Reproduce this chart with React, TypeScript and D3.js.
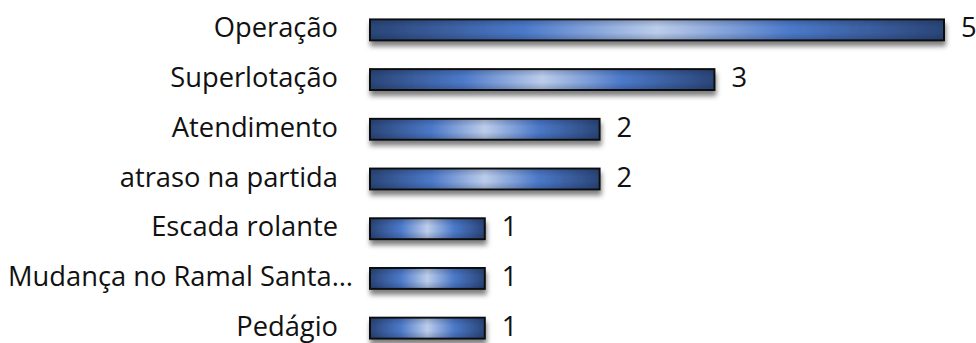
import React, { useEffect, useRef } from "react";
import * as d3 from "d3";

const categories = [
  "Operação",
  "Superlotação",
  "Atendimento",
  "atraso na partida",
  "Escada rolante",
  "Mudança no Ramal Santa…",
  "Pedágio",
];
const counts = [5, 3, 2, 2, 1, 1, 1];

const width = 976;
const height = 343;

export default function App() {
  const ref = useRef<SVGSVGElement>(null);

  useEffect(() => {
    const svg = d3.select(ref.current);
    svg.selectAll("*").remove();

    const x = d3.scaleLinear().domain([0, 5]).range([370, 944]);
    const y = d3
      .scaleBand()
      .domain(categories)
      .range([5, 353])
      .paddingInner(0.58)
      .paddingOuter(0.29);

    const defs = svg.append("defs");

    // horizontal sheen: dark edges, bright blue, light centre
    const grad = defs
      .append("linearGradient")
      .attr("id", "barGrad")
      .attr("x1", "0%")
      .attr("x2", "100%");
    [
      [0, "#2a4577"],
      [0.27, "#4c79c9"],
      [0.5, "#bccdeb"],
      [0.73, "#4c79c9"],
      [1, "#2a4577"],
    ].forEach(([o, c]) =>
      grad.append("stop").attr("offset", o as number).attr("stop-color", c as string),
    );

    // slight vertical darkening toward top and bottom
    const vgrad = defs
      .append("linearGradient")
      .attr("id", "barShade")
      .attr("x1", "0%")
      .attr("x2", "0%")
      .attr("y1", "0%")
      .attr("y2", "100%");
    [
      [0, "#0a1a3a", 0.22],
      [0.35, "#0a1a3a", 0],
      [0.65, "#0a1a3a", 0],
      [1, "#0a1a3a", 0.22],
    ].forEach(([o, c, op]) =>
      vgrad
        .append("stop")
        .attr("offset", o as number)
        .attr("stop-color", c as string)
        .attr("stop-opacity", op as number),
    );

    const shadow = defs
      .append("filter")
      .attr("id", "shadow")
      .attr("x", "-5%")
      .attr("y", "-30%")
      .attr("width", "115%")
      .attr("height", "200%");
    shadow
      .append("feDropShadow")
      .attr("dx", 1)
      .attr("dy", 5)
      .attr("stdDeviation", 2.6)
      .attr("flood-color", "#000")
      .attr("flood-opacity", 0.5);

    const data = categories.map((c, i) => ({ name: c, value: counts[i] }));

    const bars = svg.append("g").selectAll("g").data(data).join("g");

    bars
      .append("rect")
      .attr("x", x(0))
      .attr("y", (d) => y(d.name)!)
      .attr("width", (d) => x(d.value) - x(0))
      .attr("height", y.bandwidth())
      .attr("fill", "url(#barGrad)")
      .attr("stroke", "#111")
      .attr("stroke-width", 2)
      .attr("filter", "url(#shadow)");

    bars
      .append("rect")
      .attr("x", x(0) + 1)
      .attr("y", (d) => y(d.name)! + 1)
      .attr("width", (d) => x(d.value) - x(0) - 2)
      .attr("height", y.bandwidth() - 2)
      .attr("fill", "url(#barShade)");

    const font = "Open Sans, sans-serif";
    const fs = 27.3;

    // category labels
    svg
      .append("g")
      .selectAll("text")
      .data(data)
      .join("text")
      .attr("x", 338)
      .attr("y", (d) => y(d.name)! + y.bandwidth() / 2 - 2)
      .attr("dy", "0.35em")
      .attr("text-anchor", "end")
      .attr("font-family", font)
      .attr("font-size", fs)
      .attr("fill", "#111")
      .text((d) => d.name)
      .each(function () {
        // keep long truncated labels inside the left margin
        const t = this as SVGTextElement;
        const w = t.getComputedTextLength();
        if (338 - w < 8) t.setAttribute("x", String(8 + w));
      });

    // value labels
    svg
      .append("g")
      .selectAll("text")
      .data(data)
      .join("text")
      .attr("x", (d) => x(d.value) + 17)
      .attr("y", (d) => y(d.name)! + y.bandwidth() / 2 - 2)
      .attr("dy", "0.35em")
      .attr("font-family", font)
      .attr("font-size", fs)
      .attr("fill", "#111")
      .text((d) => d.value);
  }, []);

  return (
    <svg
      ref={ref}
      width={width}
      height={height}
      style={{ position: "absolute", left: 0, top: 0, background: "#fff" }}
    />
  );
}
